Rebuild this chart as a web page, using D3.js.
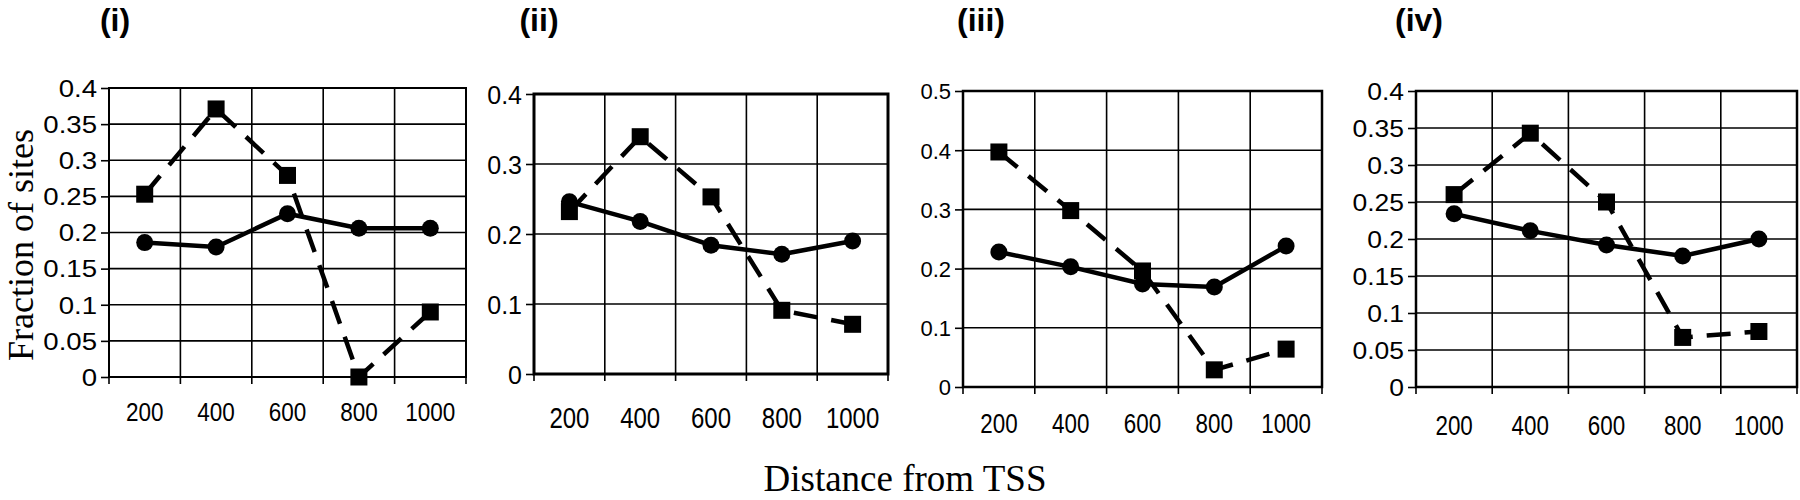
<!DOCTYPE html>
<html>
<head>
<meta charset="utf-8">
<script src="https://cdn.jsdelivr.net/npm/d3@7"></script>
<style>
  body { margin: 0; background: #fff; }
  svg { display: block; }
</style>
</head>
<body>
<script>
// data
var distances = [200, 400, 600, 800, 1000];
var panelTitles = ["(i)", "(ii)", "(iii)", "(iv)"];

var circlesI = [0.186, 0.180, 0.226, 0.206, 0.206];
var squaresI = [0.253, 0.371, 0.279, 0.0, 0.090];
var circlesII = [0.246, 0.218, 0.184, 0.171, 0.190];
var squaresII = [0.232, 0.339, 0.253, 0.091, 0.071];
var circlesIII = [0.228, 0.203, 0.174, 0.169, 0.238];
var squaresIII = [0.397, 0.298, 0.196, 0.029, 0.064];
var circlesIV = [0.234, 0.211, 0.192, 0.177, 0.200];
var squaresIV = [0.260, 0.343, 0.250, 0.067, 0.075];

var yMax = [0.4, 0.4, 0.5, 0.4];
var yStep = [0.05, 0.1, 0.1, 0.05];

var circleSeries = [circlesI, circlesII, circlesIII, circlesIV];
var squareSeries = [squaresI, squaresII, squaresIII, squaresIV];

// layout of each panel (pixel boxes + text tweaks)
var layout = [
    { left: 109, right: 466, top: 88, bottom: 377, titleX: 115, frame: 2, yFont: 23, ySx: 1.2, xFont: 25, xSx: 0.9, xOff: 35 },
    { left: 534, right: 888, top: 94, bottom: 374, titleX: 539, frame: 3, yFont: 25, ySx: 1.0, xFont: 30, xSx: 0.8, xOff: 43 },
    { left: 963, right: 1322, top: 91, bottom: 387, titleX: 981, frame: 2.5, yFont: 22, ySx: 1.0, xFont: 28, xSx: 0.8, xOff: 36 },
    { left: 1416, right: 1797, top: 91, bottom: 387, titleX: 1419, frame: 2.5, yFont: 23, ySx: 1.15, xFont: 28, xSx: 0.8, xOff: 38 }
]

var svg = d3.select("body").append("svg")
    .attr("width", 1800)
    .attr("height", 500)

var sans = "'Liberation Sans', Arial, sans-serif"
var serif = "'Liberation Serif', 'Times New Roman', serif"

function fmt(d) {
    return d === 0 ? "0" : String(+d.toFixed(2))
}

layout.forEach(function(p, i) {
    var w = p.right - p.left
    var h = p.bottom - p.top

    var g = svg.append("g")
        .attr("transform", "translate(" + p.left + "," + p.top + ")")

    var xscale = d3.scaleBand()
        .domain(distances)
        .range([0, w])
        .padding(0)

    var yscale = d3.scaleLinear()
        .domain([0, yMax[i]])
        .range([h, 0])

    var nTicks = Math.round(yMax[i] / yStep[i])
    var yticks = d3.range(0, nTicks + 1).map(function(k) { return +(k * yStep[i]).toFixed(2) })

    // horizontal grid
    g.append("g").selectAll("line")
        .data(yticks)
        .enter()
        .append("line")
        .attr("x1", 0)
        .attr("x2", w)
        .attr("y1", d => yscale(d))
        .attr("y2", d => yscale(d))
        .attr("stroke", "#000")
        .attr("stroke-width", 1.6)

    // vertical grid at band edges, poking below as tick marks
    var edges = distances.map(d => xscale(d)).concat([w])
    g.append("g").selectAll("line")
        .data(edges)
        .enter()
        .append("line")
        .attr("x1", d => d)
        .attr("x2", d => d)
        .attr("y1", 0)
        .attr("y2", h + 7)
        .attr("stroke", "#000")
        .attr("stroke-width", 1.6)

    // frame
    g.append("rect")
        .attr("x", 0)
        .attr("y", 0)
        .attr("width", w)
        .attr("height", h)
        .attr("fill", "none")
        .attr("stroke", "#000")
        .attr("stroke-width", p.frame)

    // y axis
    var yaxis = g.append("g")
        .call(d3.axisLeft(yscale).tickValues(yticks).tickSize(8).tickFormat(fmt))
        .call(g => g.select(".domain").remove())
    yaxis.selectAll("line").attr("stroke-width", 1.6)
    yaxis.selectAll("text")
        .attr("x", 0)
        .attr("dy", "0.36em")
        .attr("transform", "translate(-12,0) scale(" + p.ySx + ",1)")
        .style("font-family", sans)
        .style("font-size", p.yFont + "px")
        .attr("fill", "#000")

    // x axis labels
    var xaxis = g.append("g")
        .attr("transform", "translate(0," + h + ")")
        .call(d3.axisBottom(xscale).tickSize(0))
        .call(g => g.select(".domain").remove())
    xaxis.selectAll("text")
        .attr("y", 0)
        .attr("dy", "0.36em")
        .attr("transform", "translate(0," + p.xOff + ") scale(" + p.xSx + ",1)")
        .style("font-family", sans)
        .style("font-size", p.xFont + "px")
        .attr("fill", "#000")

    var cx = d => xscale(d.x) + xscale.bandwidth() / 2

    var sq = distances.map((d, k) => ({ x: d, v: squareSeries[i][k] }))
    var ci = distances.map((d, k) => ({ x: d, v: circleSeries[i][k] }))

    var line = d3.line()
        .x(cx)
        .y(d => yscale(d.v))

    // dashed series with squares
    g.append("path")
        .datum(sq)
        .attr("d", line)
        .attr("fill", "none")
        .attr("stroke", "#000")
        .attr("stroke-width", 4.5)
        .attr("stroke-dasharray", "24,14")

    g.selectAll(".sq")
        .data(sq)
        .enter()
        .append("rect")
        .attr("class", "sq")
        .attr("x", d => cx(d) - 8.5)
        .attr("y", d => yscale(d.v) - 8.5)
        .attr("width", 17)
        .attr("height", 17)
        .attr("fill", "#000")

    // solid series with circles
    g.append("path")
        .datum(ci)
        .attr("d", line)
        .attr("fill", "none")
        .attr("stroke", "#000")
        .attr("stroke-width", 4.5)

    g.selectAll(".ci")
        .data(ci)
        .enter()
        .append("circle")
        .attr("class", "ci")
        .attr("cx", cx)
        .attr("cy", d => yscale(d.v))
        .attr("r", 8.5)
        .attr("fill", "#000")

    // panel title
    svg.append("text")
        .attr("x", p.titleX)
        .attr("y", 31)
        .attr("text-anchor", "middle")
        .style("font-family", sans)
        .style("font-weight", "bold")
        .style("font-size", "32px")
        .text(panelTitles[i])
})

// shared axis titles
svg.append("text")
    .attr("transform", "translate(33,245) rotate(-90)")
    .attr("text-anchor", "middle")
    .style("font-family", serif)
    .style("font-size", "36px")
    .text("Fraction of sites")

svg.append("text")
    .attr("x", 905)
    .attr("y", 491)
    .attr("text-anchor", "middle")
    .style("font-family", serif)
    .style("font-size", "37px")
    .text("Distance from TSS")
</script>
</body>
</html>
